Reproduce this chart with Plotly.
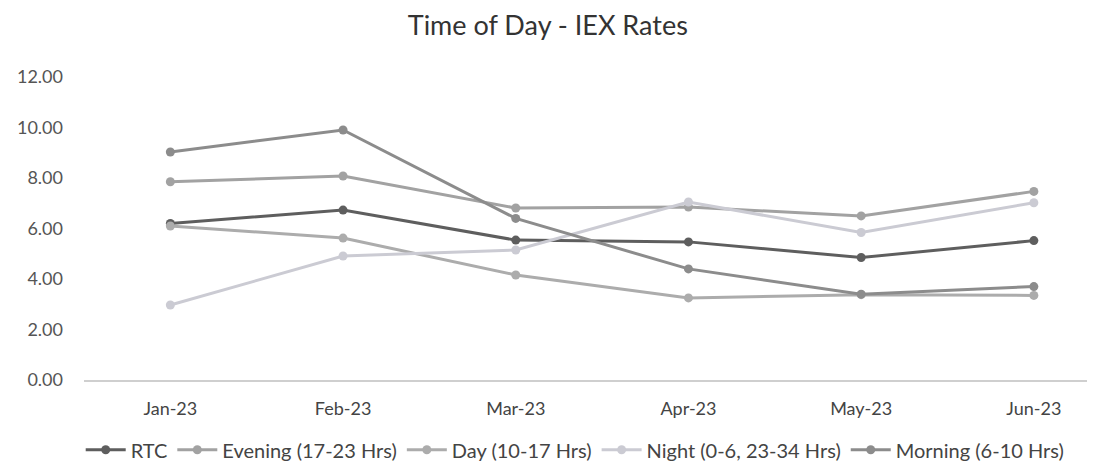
import plotly.graph_objects as go

months = ["Jan-23", "Feb-23", "Mar-23", "Apr-23", "May-23", "Jun-23"]
rtc = [6.20, 6.73, 5.54, 5.47, 4.85, 5.52]
evening = [7.85, 8.08, 6.81, 6.85, 6.50, 7.47]
day = [6.10, 5.62, 4.16, 3.25, 3.38, 3.35]
night = [2.97, 4.91, 5.15, 7.05, 5.84, 7.02]
morning = [9.03, 9.90, 6.40, 4.40, 3.40, 3.70]

series = [
    ("RTC", rtc, "#5e5e5e"),
    ("Evening (17-23 Hrs)", evening, "#a2a2a2"),
    ("Day (10-17 Hrs)", day, "#acacac"),
    ("Night (0-6, 23-34 Hrs)", night, "#cbcbd3"),
    ("Morning (6-10 Hrs)", morning, "#8c8c8c"),
]

fig = go.Figure()
for name, vals, col in series:
    fig.add_trace(go.Scatter(
        x=months, y=vals, name=name, mode="lines+markers",
        line=dict(color=col, width=3),
        marker=dict(color=col, size=9, symbol="circle"),
    ))

font = "Lato, 'Open Sans', sans-serif"
fig.update_layout(
    width=1095, height=469,
    paper_bgcolor="white", plot_bgcolor="white",
    margin=dict(l=76, r=8, t=69, b=97, autoexpand=False),
    title=dict(text="Time of Day - IEX Rates", x=0.493, xref="container",
               xanchor="center", y=0.962, yanchor="middle",
               font=dict(family=font, size=27, color="#333")),
    font=dict(family=font, size=18, color="#555"),
    showlegend=True,
    legend=dict(orientation="h", xref="container", yref="container",
                x=0.518, xanchor="center", y=0.058, yanchor="middle",
                font=dict(family=font, size=20, color="#444"),
                itemwidth=40, tracegroupgap=0),
)
fig.update_xaxes(type="category", range=[-0.5, 5.354], showgrid=False,
                 showline=True, linecolor="#cfcfcf", linewidth=1.5,
                 ticks="", ticklabelstandoff=12, zeroline=False,
                 tickfont=dict(family=font, size=18, color="#444"))
fig.update_yaxes(range=[0, 12], dtick=2, tickformat=".2f", showgrid=False,
                 showline=False, zeroline=False, ticks="",
                 ticklabelstandoff=20,
                 tickfont=dict(family=font, size=18, color="#555"))

fig.write_html("out.html")
